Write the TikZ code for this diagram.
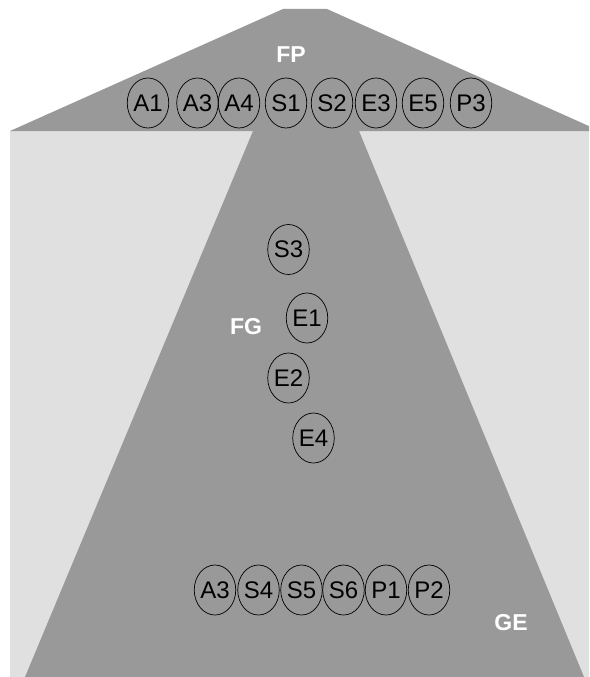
\documentclass[tikz,border=0pt]{standalone}
\usepackage{fontspec}
\setmainfont{Liberation Sans}
\usepackage{tikz}
\usepackage{xcolor}
\usetikzlibrary{shapes.geometric}

\definecolor{zonedark}{RGB}{153,153,153}
\definecolor{zonelight}{RGB}{224,224,224}

\tikzset{
  comp/.style={ellipse, draw=black, line width=0.7pt, inner sep=0pt, minimum width=41pt, minimum height=50pt,
    font=\fontsize{24}{27}\selectfont},
  zonelabel/.style={text=white, font=\fontsize{23}{26}\selectfont\bfseries, inner sep=0pt}
}

\begin{document}
\begin{tikzpicture}[x=1pt, y=-1pt]
\useasboundingbox (0,0) rectangle (589,677);
\clip (0,0) rectangle (589,677);
% zones
\fill[zonelight] (10,131) rectangle (589,677);
\fill[zonedark] (283,9) -- (327,9) -- (600,131) -- (10,131) -- cycle;
\fill[zonedark] (253,131) -- (359,131) -- (584,677) -- (25,677) -- cycle;

\node[zonelabel] (FP) at (291,55) {FP};
\node[zonelabel] (FG) at (246,327) {FG};
\node[zonelabel] (GE) at (511,623) {GE};

% FP
\node[comp] (fpA1) at (148,103) {A1};
\node[comp] (fpA3) at (197.5,103) {A3};
\node[comp] (fpA4) at (239,103) {A4};
\node[comp] (fpS1) at (286,103) {S1};
\node[comp] (fpS2) at (332,103) {S2};
\node[comp] (fpE3) at (376,103) {E3};
\node[comp] (fpE5) at (423,103) {E5};
\node[comp] (fpP3) at (471,103) {P3};

% FG
\node[comp] (fgS3) at (288.5,249.5) {S3};
\node[comp] (fgE1) at (307,318) {E1};
\node[comp] (fgE2) at (288.5,378) {E2};
\node[comp] (fgE4) at (313.5,438) {E4};

% GE
\node[comp] (geA3) at (215,590) {A3};
\node[comp] (geS4) at (258.5,590) {S4};
\node[comp] (geS5) at (301.5,590) {S5};
\node[comp] (geS6) at (343.5,590) {S6};
\node[comp] (geP1) at (386,590) {P1};
\node[comp] (geP2) at (429,590) {P2};
\end{tikzpicture}
\end{document}
